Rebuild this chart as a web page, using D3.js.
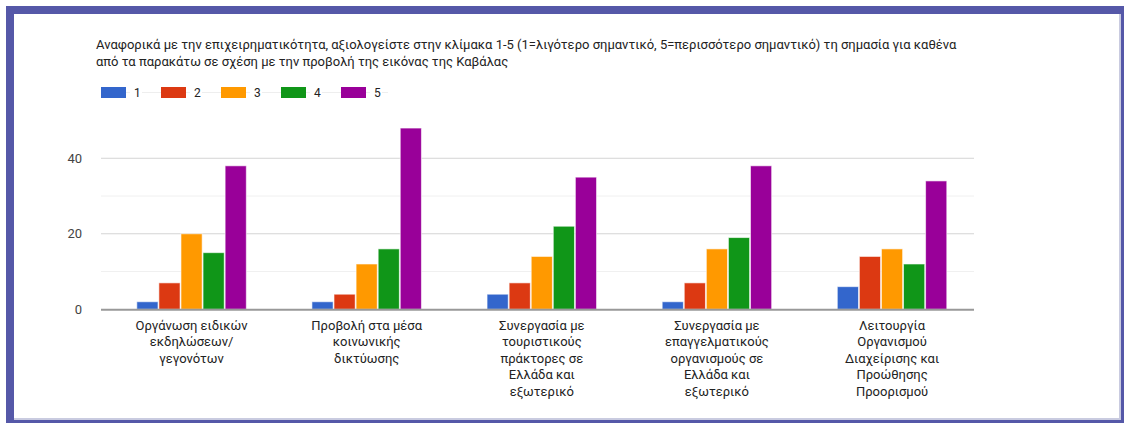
<!DOCTYPE html>
<html>
<head>
<meta charset="utf-8">
<script src="https://cdn.jsdelivr.net/npm/d3@7"></script>
<style>
  html, body { margin: 0; padding: 0; background: #fff; }
  svg { display: block; }
  text { font-family: Roboto, "Noto Sans", Arial, sans-serif; }
</style>
</head>
<body>
<svg id="chart" width="1124" height="423"></svg>
<script>
const titleLines = [
  "Αναφορικά με την επιχειρηματικότητα, αξιολογείστε στην κλίμακα 1-5 (1=λιγότερο σημαντικό, 5=περισσότερο σημαντικό) τη σημασία για καθένα",
  "από τα παρακάτω σε σχέση με την προβολή της εικόνας της Καβάλας"
];
const categories = [
  ["Οργάνωση ειδικών", "εκδηλώσεων/", "γεγονότων"],
  ["Προβολή στα μέσα", "κοινωνικής", "δικτύωσης"],
  ["Συνεργασία με", "τουριστικούς", "πράκτορες σε", "Ελλάδα και", "εξωτερικό"],
  ["Συνεργασία με", "επαγγελματικούς", "οργανισμούς σε", "Ελλάδα και", "εξωτερικό"],
  ["Λειτουργία", "Οργανισμού", "Διαχείρισης και", "Προώθησης", "Προορισμού"]
];
const seriesNames = ["1", "2", "3", "4", "5"];
const seriesColors = ["#3366cc", "#dc3912", "#ff9900", "#109618", "#990099"];
const s1 = [2, 2, 4, 2, 6];
const s2 = [7, 4, 7, 7, 14];
const s3 = [20, 12, 14, 16, 16];
const s4 = [15, 16, 22, 19, 12];
const s5 = [38, 48, 35, 38, 34];
const majorTicks = [0, 20, 40];
const minorTicks = [10, 30];

const series = [s1, s2, s3, s4, s5];
const svg = d3.select("#chart");

// frame
svg.append("rect").attr("x", 6).attr("y", 6).attr("width", 1118).attr("height", 417).attr("fill", "#5558a8");
svg.append("rect").attr("x", 14).attr("y", 14).attr("width", 1107).attr("height", 406).attr("fill", "#c9cbe0");
svg.append("rect").attr("x", 14).attr("y", 14).attr("width", 1105).attr("height", 404).attr("fill", "#ffffff");

// title
svg.append("g").selectAll("text").data(titleLines).join("text")
  .attr("x", 96).attr("y", (d, i) => 49 + i * 17)
  .attr("font-size", 13).attr("fill", "#222")
  .text(d => d);

// legend
const legend = svg.append("g");
legend.append("line").attr("x1", 101).attr("x2", 388).attr("y1", 92.5).attr("y2", 92.5)
  .attr("stroke", "#eeeeee").attr("stroke-width", 1);
const li = legend.selectAll("g").data(seriesNames).join("g")
  .attr("transform", (d, i) => `translate(${101 + i * 60},87)`);
li.append("rect").attr("width", 25).attr("height", 11).attr("fill", (d, i) => seriesColors[i]);
li.append("rect").attr("x", 29).attr("y", 0).attr("width", 12).attr("height", 11).attr("fill", "#fff");
li.append("text").attr("x", 33).attr("y", 10).attr("font-size", 12).attr("fill", "#222").text(d => d);

// scales
const y = d3.scaleLinear().domain([0, 50]).range([309.3, 120.5]);
const x0 = d3.scaleBand().domain(d3.range(categories.length)).range([104, 979.6]).paddingInner(0).paddingOuter(0);
const x1 = d3.scaleBand().domain(d3.range(seriesNames.length)).range([0, 109.5]).paddingInner(0.04);
const bandOffset = (x0.bandwidth() - 109.5) / 2;

// gridlines
svg.append("g").selectAll("line").data(minorTicks).join("line")
  .attr("x1", 101).attr("x2", 974).attr("y1", d => y(d)).attr("y2", d => y(d))
  .attr("stroke", "#f0f0f0").attr("stroke-width", 1);
svg.append("g").selectAll("line").data(majorTicks.filter(d => d > 0)).join("line")
  .attr("x1", 101).attr("x2", 974).attr("y1", d => y(d)).attr("y2", d => y(d))
  .attr("stroke", "#d4d4d4").attr("stroke-width", 1);

// y labels
svg.append("g").selectAll("text").data(majorTicks).join("text")
  .attr("x", 82).attr("y", d => y(d) + 4.5).attr("text-anchor", "end")
  .attr("font-size", 13).attr("fill", "#444").text(d => d);

// bars
const groups = svg.append("g").selectAll("g").data(categories).join("g")
  .attr("transform", (d, i) => `translate(${x0(i) + bandOffset},0)`);
groups.selectAll("rect").data((d, gi) => series.map((s, si) => ({ si, v: s[gi] }))).join("rect")
  .attr("x", d => x1(d.si))
  .attr("y", d => y(d.v))
  .attr("width", x1.bandwidth())
  .attr("height", d => y(0) - y(d.v))
  .attr("fill", d => seriesColors[d.si])
  .attr("stroke", "#ffffff").attr("stroke-opacity", 0.6).attr("stroke-width", 1);

// baseline
svg.append("line").attr("x1", 101).attr("x2", 974).attr("y1", y(0) + 0.5).attr("y2", y(0) + 0.5)
  .attr("stroke", "#999").attr("stroke-width", 2);

// x labels
const xl = svg.append("g").selectAll("text").data(categories).join("text")
  .attr("text-anchor", "middle").attr("font-size", 13).attr("fill", "#222");
xl.selectAll("tspan").data((d, i) => d.map(t => ({ t, i }))).join("tspan")
  .attr("x", d => x0(d.i) + x0.bandwidth() / 2)
  .attr("y", (d, k) => 329.5 + k * 16.6)
  .text(d => d.t);
</script>
</body>
</html>
